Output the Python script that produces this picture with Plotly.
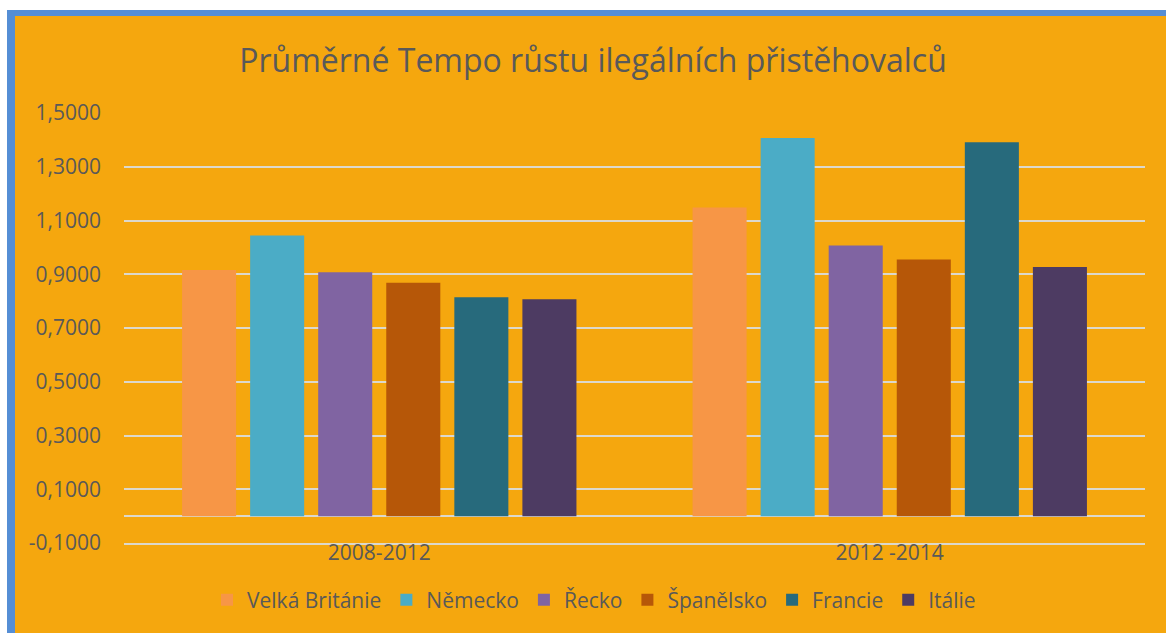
import plotly.graph_objects as go

# ---- data ----
categories = ["2008-2012", "2012 -2014"]
countries = ["Velká Británie", "Německo", "Řecko", "Španělsko", "Francie", "Itálie"]
values = {
    "Velká Británie": [0.916, 1.148],
    "Německo": [1.044, 1.407],
    "Řecko": [0.907, 1.007],
    "Španělsko": [0.868, 0.955],
    "Francie": [0.814, 1.391],
    "Itálie": [0.807, 0.927],
}
colors = ["#F79646", "#4BACC6", "#8064A2", "#B65708", "#276A7C", "#4D3B62"]
y_tickvals = [-0.1, 0.1, 0.3, 0.5, 0.7, 0.9, 1.1, 1.3, 1.5]
y_ticktext = ["-0,1000", "0,1000", "0,3000", "0,5000", "0,7000", "0,9000", "1,1000", "1,3000", "1,5000"]
title_text = "Průměrné Tempo růstu ilegálních přistěhovalců"

# ---- layout geometry ----
W, H = 1166, 633
ML, MR, MT, MB = 124, 21, 113, 90
PW, PH = W - ML - MR, H - MT - MB

def px_x(px):
    return (px - ML) / PW

def px_y(py):
    return (H - MB - py) / PH

ORANGE = "#F5A70E"
BLUE = "#558ED5"
TEXT = "#595959"
GRID = "#DCD8CC"
FONT = "Open Sans"

fig = go.Figure()
for name, col in zip(countries, colors):
    fig.add_trace(go.Bar(
        name=name, x=categories, y=values[name],
        marker=dict(color=col, line=dict(width=0)),
    ))

shapes = [
    dict(type="rect", xref="paper", yref="paper", layer="below",
         x0=px_x(7), x1=px_x(W + 20), y0=px_y(10), y1=px_y(H + 20),
         fillcolor=BLUE, line=dict(width=0)),
    dict(type="rect", xref="paper", yref="paper", layer="below",
         x0=px_x(15), x1=px_x(W + 20), y0=px_y(16), y1=px_y(H + 20),
         fillcolor=ORANGE, line=dict(width=0)),
]

fig.update_layout(
    width=W, height=H,
    margin=dict(l=ML, r=MR, t=MT, b=MB, pad=0),
    paper_bgcolor="white",
    plot_bgcolor="rgba(0,0,0,0)",
    barmode="group",
    bargap=0.2,
    bargroupgap=0.206,
    shapes=shapes,
    font=dict(family=FONT, color=TEXT, size=21),
    title=dict(text=title_text, x=593 / W, xref="container", xanchor="center",
               y=1 - 61 / H, yref="container", yanchor="middle",
               font=dict(family=FONT, size=32, color=TEXT)),
    xaxis=dict(showgrid=False, showline=True, linecolor=GRID, linewidth=1.6,
               zeroline=False, ticks="",
               tickfont=dict(family=FONT, size=21, color=TEXT),
               ticklabelstandoff=-10),
    yaxis=dict(range=[-0.1, 1.5], tickvals=y_tickvals, ticktext=y_ticktext,
               showgrid=True, gridcolor=GRID, gridwidth=1.6,
               zeroline=True, zerolinecolor=GRID, zerolinewidth=1.6,
               showline=False, ticks="",
               tickfont=dict(family=FONT, size=21, color=TEXT),
               ticklabelstandoff=22),
    legend=dict(orientation="h", x=px_x(594), xanchor="center",
                y=px_y(600), yanchor="middle",
                font=dict(family=FONT, size=21, color=TEXT),
                bgcolor="rgba(0,0,0,0)", itemclick=False),
    showlegend=True,
)

fig.write_html("out.html", config={"displayModeBar": False},
               post_script="document.body.style.margin='0';document.body.style.overflow='hidden';")
